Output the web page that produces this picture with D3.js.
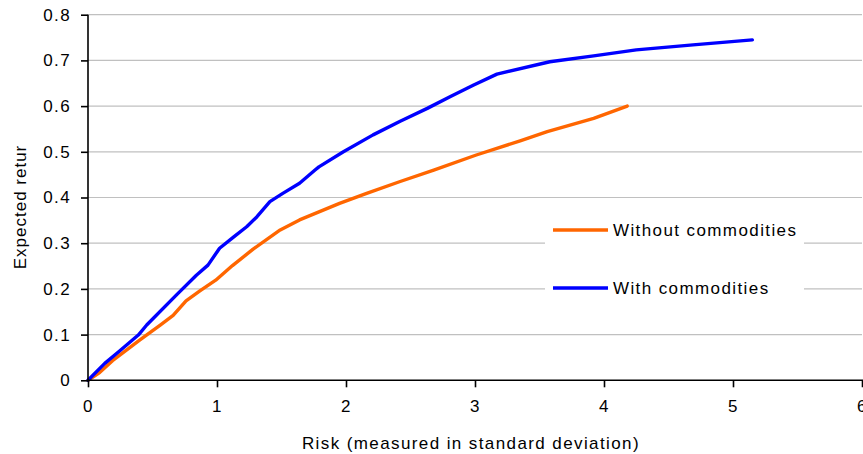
<!DOCTYPE html>
<html>
<head>
<meta charset="utf-8">
<script src="https://cdn.jsdelivr.net/npm/d3@7"></script>
<style>
  html, body { margin: 0; padding: 0; background: #fff; }
  svg text { font-family: "Liberation Sans", Arial, sans-serif; fill: #000; }
</style>
</head>
<body>
<svg id="chart" width="863" height="454"></svg>
<script>
// Efficient frontier: risk (std. dev.) vs expected return
const withoutRisk = [0, 0.09, 0.19, 0.40, 0.56, 0.66, 0.76, 0.87, 0.99, 1.12, 1.28, 1.49, 1.64, 1.95, 2.16, 2.42, 2.68, 3.01, 3.35, 3.56, 3.92, 4.18];
const withoutReturn = [0, 0.017, 0.043, 0.088, 0.121, 0.142, 0.174, 0.196, 0.219, 0.251, 0.287, 0.329, 0.351, 0.387, 0.409, 0.435, 0.460, 0.493, 0.524, 0.544, 0.573, 0.600];

const withRisk = [0, 0.13, 0.24, 0.39, 0.455, 0.69, 0.84, 0.93, 1.02, 1.13, 1.23, 1.31, 1.41, 1.51, 1.64, 1.76, 1.79, 1.98, 2.21, 2.42, 2.63, 2.81, 2.99, 3.17, 3.58, 3.92, 4.25, 4.69, 5.15];
const withReturn = [0, 0.037, 0.063, 0.099, 0.121, 0.188, 0.230, 0.252, 0.289, 0.314, 0.336, 0.358, 0.391, 0.409, 0.431, 0.460, 0.467, 0.500, 0.537, 0.567, 0.595, 0.621, 0.646, 0.670, 0.697, 0.710, 0.723, 0.734, 0.745];

const seriesNames = ["Without commodities", "With commodities"];
const seriesColors = ["#ff6600", "#0000ff"];

const xTicks = [0, 1, 2, 3, 4, 5, 6];
const yTicks = [0, 0.1, 0.2, 0.3, 0.4, 0.5, 0.6, 0.7, 0.8];

const xTitle = "Risk (measured in standard deviation)";
const yTitle = "Expected retur";

const svg = d3.select("#chart");
const plotLeft = 88, plotRight = 862, plotTop = 14.7, plotBottom = 380.3;

const x = d3.scaleLinear().domain([0, 6]).range([plotLeft, plotRight]);
const y = d3.scaleLinear().domain([0, 0.8]).range([plotBottom, plotTop]);

const fontSize = 17;
const spacing = "1.4px";

// horizontal gridlines
svg.append("g")
  .selectAll("line")
  .data(yTicks.filter(d => d > 0))
  .join("line")
  .attr("x1", plotLeft).attr("x2", plotRight)
  .attr("y1", d => y(d)).attr("y2", d => y(d))
  .attr("stroke", "#c0c0c0").attr("stroke-width", 1.2);

// legend background masks the gridlines behind it
svg.append("rect")
  .attr("x", 545).attr("y", 207).attr("width", 259).attr("height", 110)
  .attr("fill", "#fff");

// series lines
const line = d3.line().x(d => x(d[0])).y(d => y(d[1]));
const series = [
  d3.zip(withoutRisk, withoutReturn),
  d3.zip(withRisk, withReturn)
];
svg.append("g")
  .selectAll("path")
  .data(series)
  .join("path")
  .attr("d", line)
  .attr("fill", "none")
  .attr("stroke", (d, i) => seriesColors[i])
  .attr("stroke-width", 3.4)
  .attr("stroke-linejoin", "round")
  .attr("stroke-linecap", "round");

// axes
const xAxis = d3.axisBottom(x).tickValues(xTicks).tickSize(7).tickPadding(13).tickFormat(d3.format("d"));
const yAxis = d3.axisLeft(y).tickValues(yTicks).tickSize(7).tickPadding(10).tickFormat(d => d === 0 ? "0" : d3.format(".1f")(d));

const gx = svg.append("g").attr("transform", `translate(0,${plotBottom})`).call(xAxis);
const gy = svg.append("g").attr("transform", `translate(${plotLeft},0)`).call(yAxis);

[gx, gy].forEach(g => {
  g.select(".domain").attr("stroke", "#000").attr("stroke-width", 1.6);
  g.selectAll(".tick line").attr("stroke", "#000").attr("stroke-width", 1.6);
  g.selectAll(".tick text")
    .attr("font-family", "Liberation Sans, Arial, sans-serif")
    .attr("font-size", fontSize)
    .attr("letter-spacing", spacing)
    .attr("fill", "#000");
});
gx.select(".domain").attr("d", `M${plotLeft},0H${plotRight + 1}`);
gy.select(".domain").attr("d", `M0,${plotTop}V${plotBottom}`);

// axis titles
svg.append("text")
  .attr("x", 471).attr("y", 449)
  .attr("text-anchor", "middle")
  .attr("font-size", fontSize)
  .attr("letter-spacing", spacing)
  .text(xTitle);

svg.append("text")
  .attr("transform", "translate(26,207) rotate(-90)")
  .attr("text-anchor", "middle")
  .attr("font-size", fontSize)
  .attr("letter-spacing", "1px")
  .text(yTitle);

// legend
const legendRows = [230, 288];
const lg = svg.append("g");
seriesNames.forEach((name, i) => {
  lg.append("line")
    .attr("x1", 553).attr("x2", 608)
    .attr("y1", legendRows[i]).attr("y2", legendRows[i])
    .attr("stroke", seriesColors[i]).attr("stroke-width", 3.4);
  lg.append("text")
    .attr("x", 613).attr("y", legendRows[i] + 6)
    .attr("font-size", fontSize)
    .attr("letter-spacing", spacing)
    .text(name);
});
</script>
</body>
</html>
